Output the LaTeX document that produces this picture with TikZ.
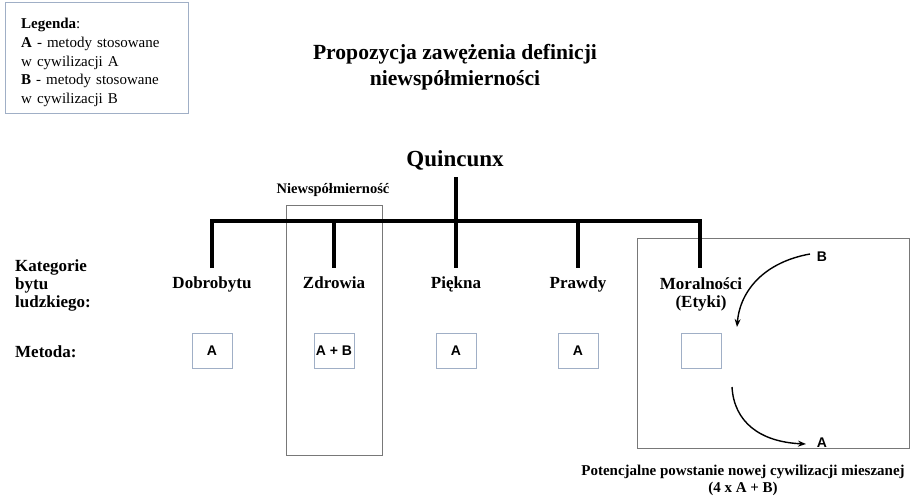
\documentclass[tikz,border=0pt]{standalone}
\usepackage{fontspec}
\setmainfont{Liberation Serif}
\setsansfont{Liberation Sans}
\usetikzlibrary{arrows.meta}
\definecolor{boxblue}{RGB}{160,175,198}
\definecolor{boxgray}{RGB}{120,120,120}
\begin{document}
\begin{tikzpicture}[x=1pt,y=-1pt,
  bar/.style={line width=3.6pt,line join=miter},
  catlabel/.style={font=\fontsize{17}{18}\selectfont\bfseries,align=center,inner sep=0pt,anchor=base},
  methbox/.style={draw=boxblue,line width=0.9pt,minimum width=40pt,minimum height=35pt,inner sep=0pt,font=\sffamily\bfseries\fontsize{14}{16}\selectfont},
  letter/.style={font=\sffamily\bfseries\fontsize{14}{16}\selectfont,inner sep=0pt},
  frame/.style={draw=boxgray,line width=0.9pt,inner sep=0pt},
  arr/.style={line width=1.4pt,-{Stealth[length=8pt,width=6pt]}}]
\useasboundingbox (0,0) rectangle (913,496);
\fill[white] (0,0) rectangle (913,496);
% legend
\node[draw=boxblue,line width=0.9pt,anchor=north west,minimum width=183pt,minimum height=111pt,inner sep=0pt] (legbox) at (5,2) {};
\node[anchor=north west,inner sep=0pt,text width=165pt,align=left,
  font=\fontsize{15}{18.7}\selectfont] (legend) at (21,18)
  {\textbf{Legenda}:\\ \textbf{A} - metody stosowane\\ w cywilizacji A\\ \textbf{B} - metody stosowane\\ w cywilizacji B};
% title
\node[font=\fontsize{21.6}{26}\selectfont\bfseries,align=center,inner sep=0pt] (title) at (455,67)
  {Propozycja zawężenia definicji\\ niewspółmierności};
\node[font=\fontsize{23}{26}\selectfont\bfseries,inner sep=0pt] (quin) at (455,160) {Quincunx};
% tree
\coordinate (q) at (456,177);
\coordinate (d1) at (212,268);
\coordinate (d2) at (334,268);
\coordinate (d3) at (456,268);
\coordinate (d4) at (578,268);
\coordinate (d5) at (700,268);
\coordinate (h) at (456,221);
% frames
\node[frame,minimum width=96pt,minimum height=250pt] (nbox) at (334,330) {};
\node[font=\fontsize{14.5}{16}\selectfont\bfseries,inner sep=0pt] (nlabel) at (333,190) {Niewspółmierność};
\node[frame,minimum width=272pt,minimum height=210pt] (mbox) at (773,343) {};
\draw[bar] (d1) -- (d1 |- h) -- (d5 |- h) -- (d5);
\draw[bar] (q) -- (d3);
\draw[bar] (d2 |- h) -- (d2);
\draw[bar] (d4 |- h) -- (d4);
% left labels
\node[font=\fontsize{17}{18}\selectfont\bfseries,align=left,anchor=west,inner sep=0pt] (kat) at (15,285) {Kategorie\\ bytu\\ ludzkiego:};
\node[font=\fontsize{17}{18}\selectfont\bfseries,anchor=west,inner sep=0pt] (met) at (15,352) {Metoda:};
% categories
\node[catlabel] (c1) at (212,288) {Dobrobytu};
\node[catlabel] (c2) at (334,288) {Zdrowia};
\node[catlabel] (c3) at (456,288) {Piękna};
\node[catlabel] (c4) at (578,288) {Prawdy};
\node[catlabel] (c5) at (701,307) {Moralności\\ (Etyki)};
% methods
\node[methbox] (m1) at (212,351) {A};
\node[methbox] (m2) at (334,351) {A + B};
\node[methbox] (m3) at (456,351) {A};
\node[methbox] (m4) at (578,351) {A};
\node[methbox] (m5) at (701,351) {};
% B and A
\node[letter] (bl) at (822,257) {B};
\node[letter] (al) at (822,443) {A};
\coordinate (a1e) at (737,327);
\coordinate (a2s) at (732,387);
\draw[arr] ([xshift=-12pt,yshift=3pt]bl.center) .. controls (765,262) and (740,290) .. (a1e);
\draw[arr] (a2s) .. controls (734,422) and (760,442) .. ([xshift=-16pt,yshift=-1pt]al.center);
% caption
\node[font=\fontsize{15}{17}\selectfont\bfseries,align=center,inner sep=0pt] (cap) at (743,480)
  {Potencjalne powstanie nowej cywilizacji mieszanej\\ (4 x A + B)};
\end{tikzpicture}
\end{document}
